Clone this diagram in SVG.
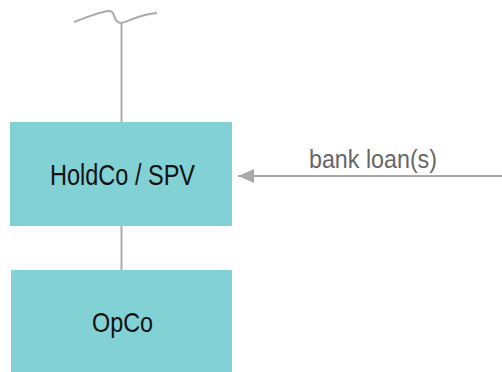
<svg xmlns="http://www.w3.org/2000/svg" width="502" height="372" viewBox="0 0 502 372">
<defs>
<style>
.box{fill:#81d1d5;}
.lbl{font-family:"Liberation Sans",Arial,sans-serif;fill:#111;text-anchor:middle;}
.edge{stroke:#aaaaaa;stroke-width:2;fill:none;}
.elbl{font-family:"Liberation Sans",Arial,sans-serif;fill:#666;font-size:26px;}
</style>
<marker id="arr" markerWidth="16" markerHeight="14" refX="0" refY="7" orient="auto" markerUnits="userSpaceOnUse">
<path d="M0,7 L16,0 L16,14 Z" fill="#aaaaaa"/>
</marker>
</defs>
<rect width="502" height="372" fill="#ffffff"/>
<g id="connectors">
<path class="edge" d="M74,22 C90,16 104,10 110,11 C116,12 113,23 121,23 C130,21 140,14 157,13"/>
<line class="edge" x1="121.5" y1="22" x2="121.5" y2="122"/>
<line class="edge" x1="121.5" y1="226" x2="121.5" y2="270"/>
<line class="edge" x1="238" y1="176" x2="502" y2="176" marker-start="url(#arr)"/>
<text class="elbl" x="309" y="168" textLength="128" lengthAdjust="spacingAndGlyphs">bank loan(s)</text>
</g>
<g id="holdco">
<rect class="box" x="10" y="122" width="222" height="104"/>
<text class="lbl" x="122.5" y="185" font-size="29" textLength="145" lengthAdjust="spacingAndGlyphs">HoldCo / SPV</text>
</g>
<g id="opco">
<rect class="box" x="11" y="270" width="221" height="102"/>
<text class="lbl" x="122.5" y="332" font-size="28" textLength="61" lengthAdjust="spacingAndGlyphs">OpCo</text>
</g>
</svg>
